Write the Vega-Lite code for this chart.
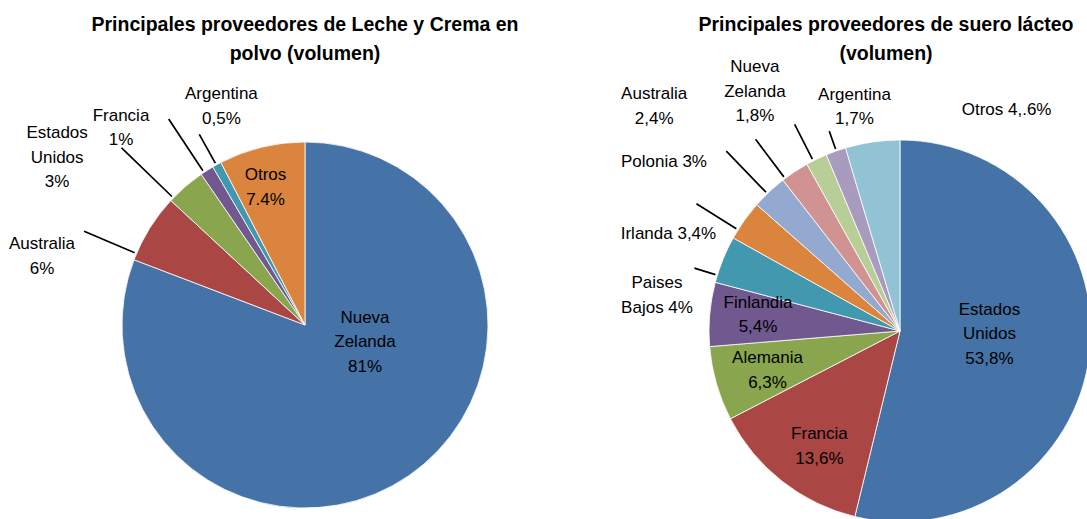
{
  "$schema": "https://vega.github.io/schema/vega-lite/v6.json",
  "padding": {"left": 0, "top": 14, "right": 0, "bottom": 0},
  "background": "white",
  "bounds": "flush",
  "config": {
    "view": {"stroke": null},
    "font": "Liberation Sans",
    "title": {"font": "Liberation Sans", "fontSize": 19.5, "fontWeight": "bold", "color": "#000000", "lineHeight": 29, "anchor": "middle", "frame": "group"}
  },
  "datasets": {
    "leche": [
      {"name": "Nueva Zelanda", "value": 80.8, "order": 1, "label": "Nueva\nZelanda\n81%"},
      {"name": "Australia", "value": 6.1, "order": 2, "label": "Australia\n6%"},
      {"name": "Estados Unidos", "value": 3.5, "order": 3, "label": "Estados\nUnidos\n3%"},
      {"name": "Francia", "value": 1.2, "order": 4, "label": "Francia\n1%"},
      {"name": "Argentina", "value": 0.8, "order": 5, "label": "Argentina\n0,5%"},
      {"name": "Otros", "value": 7.6, "order": 6, "label": "Otros\n7.4%"}
    ],
    "suero": [
      {"name": "Estados Unidos", "value": 53.8, "order": 1, "label": "Estados\nUnidos\n53,8%"},
      {"name": "Francia", "value": 13.6, "order": 2, "label": "Francia\n13,6%"},
      {"name": "Alemania", "value": 6.3, "order": 3, "label": "Alemania\n6,3%"},
      {"name": "Finlandia", "value": 5.4, "order": 4, "label": "Finlandia\n5,4%"},
      {"name": "Paises Bajos", "value": 4.0, "order": 5, "label": "Paises\nBajos 4%"},
      {"name": "Irlanda", "value": 3.4, "order": 6, "label": "Irlanda 3,4%"},
      {"name": "Polonia", "value": 3.0, "order": 7, "label": "Polonia 3%"},
      {"name": "Australia", "value": 2.4, "order": 8, "label": "Australia\n2,4%"},
      {"name": "Nueva Zelanda", "value": 1.8, "order": 9, "label": "Nueva\nZelanda\n1,8%"},
      {"name": "Argentina", "value": 1.7, "order": 10, "label": "Argentina\n1,7%"},
      {"name": "Otros", "value": 4.6, "order": 11, "label": "Otros 4,.6%"}
    ]
  },
  "spacing": 70,
  "hconcat": [
    {
      "width": 610,
      "height": 494,
      "title": {"text": ["Principales proveedores de Leche y Crema en", "polvo (volumen)"], "offset": 14},
      "data": {"name": "leche"},
      "resolve": {"scale": {"theta": "independent", "radius": "independent"}},
      "layer": [
        {
          "mark": {"type": "arc", "outerRadius": 183, "stroke": "#ffffff", "strokeWidth": 0.8},
          "encoding": {
            "theta": {"field": "value", "type": "quantitative", "stack": true},
            "order": {"field": "order", "type": "quantitative", "sort": "ascending"},
            "color": {
              "field": "name", "type": "nominal", "legend": null,
              "scale": {
                "domain": ["Nueva Zelanda", "Australia", "Estados Unidos", "Francia", "Argentina", "Otros"],
                "range": ["#4572A7", "#AA4643", "#89A54E", "#71588F", "#4198AF", "#DB843D"]
              }
            }
          }
        },
        {
          "mark": {"type": "arc", "filled": false, "color": "#000000", "strokeWidth": 1.7, "innerRadius": 185},
          "encoding": {
            "theta": {"field": "order", "type": "quantitative", "stack": null,
              "scale": {"type": "linear", "zero": false, "domain": [1, 2, 3, 4, 5, 6], "range": [0, 5.1138, 5.4803, 5.6985, 5.7770, 6.1087]}},
            "theta2": {"field": "order"},
            "radius": {"field": "order", "type": "quantitative",
              "scale": {"type": "linear", "zero": false, "domain": [1, 2, 3, 4, 5, 6], "range": [185, 240, 255, 247, 218, 185]}}
          }
        },
        {
          "mark": {"type": "text", "fontSize": 17, "lineHeight": 24.5, "lineBreak": "\n", "align": "center", "baseline": "middle", "color": "#000000"},
          "encoding": {
            "text": {"field": "label", "type": "nominal"},
            "theta": {"field": "order", "type": "quantitative", "stack": null,
              "scale": {"type": "linear", "zero": false, "domain": [1, 2, 3, 4, 5, 6], "range": [1.4539, 5.0109, 5.3704, 5.5624, 5.9359, 6.0257]}},
            "radius": {"field": "order", "type": "quantitative",
              "scale": {"type": "linear", "zero": false, "domain": [1, 2, 3, 4, 5, 6], "range": [60.4, 275.2, 313.3, 278.8, 245.6, 155.1]}}
          }
        }
      ]
    },
    {
      "width": 440,
      "height": 506,
      "title": {"text": ["Principales proveedores de suero lácteo", "(volumen)"], "dx": -14, "offset": -6},
      "data": {"name": "suero"},
      "resolve": {"scale": {"theta": "independent", "radius": "independent"}},
      "layer": [
        {
          "mark": {"type": "arc", "outerRadius": 191, "stroke": "#ffffff", "strokeWidth": 0.8},
          "encoding": {
            "theta": {"field": "value", "type": "quantitative", "stack": true},
            "order": {"field": "order", "type": "quantitative", "sort": "ascending"},
            "color": {
              "field": "name", "type": "nominal", "legend": null,
              "scale": {
                "domain": ["Estados Unidos", "Francia", "Alemania", "Finlandia", "Paises Bajos", "Irlanda", "Polonia", "Australia", "Nueva Zelanda", "Argentina", "Otros"],
                "range": ["#4572A7", "#AA4643", "#89A54E", "#71588F", "#4198AF", "#DB843D", "#93A9CF", "#D19392", "#B9CD96", "#A99BBD", "#92C3D5"]
              }
            }
          }
        },
        {
          "mark": {"type": "arc", "filled": false, "color": "#000000", "strokeWidth": 1.7, "innerRadius": 193},
          "encoding": {
            "theta": {"field": "order", "type": "quantitative", "stack": null,
              "scale": {"type": "linear", "zero": false, "domain": [1, 2, 3, 4, 5, 6, 7, 8, 9, 10, 11], "range": [0, 3.4907, 4.3633, 4.8869, 5.0091, 5.2709, 5.5152, 5.6374, 5.8119, 5.9429, 6.1087]}},
            "theta2": {"field": "order"},
            "radius": {"field": "order", "type": "quantitative",
              "scale": {"type": "linear", "zero": false, "domain": [1, 2, 3, 4, 5, 6, 7, 8, 9, 10, 11], "range": [193, 193, 193, 193, 215, 240, 250, 240, 232, 212, 193]}}
          }
        },
        {
          "mark": {"type": "text", "fontSize": 17, "lineHeight": 24.5, "lineBreak": "\n", "align": "center", "baseline": "middle", "color": "#000000"},
          "encoding": {
            "text": {"field": "label", "type": "nominal"},
            "theta": {"field": "order", "type": "quantitative", "stack": null,
              "scale": {"type": "linear", "zero": false, "domain": [1, 2, 3, 4, 5, 6, 7, 8, 9, 10, 11], "range": [1.3352, 3.8031, 4.5082, 4.9105, 4.9061, 5.1086, 5.3337, 5.4786, 5.7805, 6.0929, 0.4485]}},
            "radius": {"field": "order", "type": "quantitative",
              "scale": {"type": "linear", "zero": false, "domain": [1, 2, 3, 4, 5, 6, 7, 8, 9, 10, 11], "range": [92.0, 131.1, 135.3, 144.8, 247.6, 251, 290.3, 341.2, 301.2, 240.8, 245.8]}}
          }
        }
      ]
    }
  ],
  "resolve": {"scale": {"color": "independent", "theta": "independent", "radius": "independent"}}
}
